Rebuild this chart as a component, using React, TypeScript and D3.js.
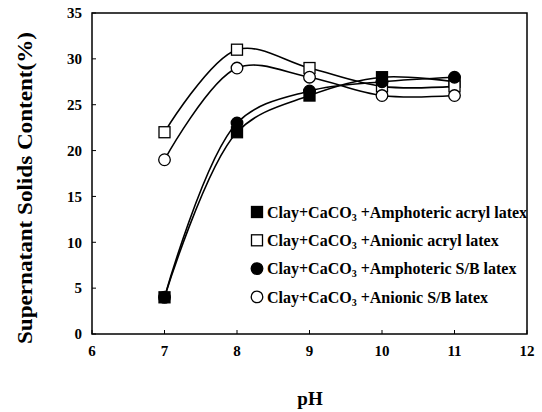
import React from 'react';
import * as d3 from 'd3';

const phValues = [7, 8, 9, 10, 11];
const amphotericAcryl = [4, 22, 26, 28, 27.5];
const anionicAcryl = [22, 31, 29, 27, 27];
const amphotericSB = [4, 23, 26.5, 27.5, 28];
const anionicSB = [19, 29, 28, 26, 26];
const xTicks = [6, 7, 8, 9, 10, 11, 12];
const yTicks = [0, 5, 10, 15, 20, 25, 30, 35];

const series = [
  { name: 'Amphoteric acryl latex', values: amphotericAcryl, shape: 'square', filled: true },
  { name: 'Anionic acryl latex', values: anionicAcryl, shape: 'square', filled: false },
  { name: 'Amphoteric S/B latex', values: amphotericSB, shape: 'circle', filled: true },
  { name: 'Anionic S/B latex', values: anionicSB, shape: 'circle', filled: false },
];

const W = 542;
const H = 412;
const left = 92;
const right = 527;
const top = 13;
const bottom = 334;
const txt = { fontFamily: "'Liberation Serif', 'DejaVu Serif', serif", fontWeight: 'bold' as const };

const x = d3.scaleLinear().domain([6, 12]).range([left, right]);
const y = d3.scaleLinear().domain([0, 35]).range([bottom, top]);

const Marker = ({ cx, cy, shape, filled }: any) => {
  const fill = filled ? '#000' : '#fff';
  if (shape === 'square') {
    return <rect x={cx - 5.5} y={cy - 5.5} width={11} height={11} fill={fill} stroke="#000" strokeWidth={1.3} />;
  }
  return <circle cx={cx} cy={cy} r={5.8} fill={fill} stroke="#000" strokeWidth={1.3} />;
};

export default function App() {
  const line = d3
    .line<number>()
    .x((_, i) => x(phValues[i]))
    .y((d) => y(d))
    .curve(d3.curveCatmullRom.alpha(0.5));

  return (
    <svg width={W} height={H} style={{ position: 'absolute', left: 0, top: 0 }}>
      <rect width={W} height={H} fill="#fff" />
      {/* frame */}
      <rect x={left} y={top} width={right - left} height={bottom - top} fill="none" stroke="#000" strokeWidth={1.5} />
      {xTicks.map((t) => (
        <g key={'x' + t}>
          <line x1={x(t)} x2={x(t)} y1={bottom} y2={bottom - 4} stroke="#000" strokeWidth={1} />
          <text x={x(t)} y={356} textAnchor="middle" style={{ ...txt, fontSize: 15 }}>
            {t}
          </text>
        </g>
      ))}
      {yTicks.map((t) => (
        <g key={'y' + t}>
          <line x1={left} x2={left + 4} y1={y(t)} y2={y(t)} stroke="#000" strokeWidth={1} />
          <text x={82} y={y(t)} dy="0.35em" textAnchor="end" style={{ ...txt, fontSize: 15 }}>
            {t}
          </text>
        </g>
      ))}
      <text x={310} y={405} textAnchor="middle" style={{ ...txt, fontSize: 19 }}>
        pH
      </text>
      <text
        transform="translate(32, 188) rotate(-90)"
        textAnchor="middle"
        textLength={312}
        lengthAdjust="spacingAndGlyphs"
        style={{ ...txt, fontSize: 21 }}
      >
        Supernatant Solids Content(%)
      </text>
      {series.map((s) => (
        <path key={'l' + s.name} d={line(s.values) || ''} fill="none" stroke="#000" strokeWidth={1.6} />
      ))}
      {series.map((s) =>
        s.values.map((v, i) => (
          <Marker key={s.name + i} cx={x(phValues[i])} cy={y(v)} shape={s.shape} filled={s.filled} />
        ))
      )}
      {series.map((s, i) => {
        const ly = 212 + i * 28.3;
        return (
          <g key={'lg' + s.name}>
            <Marker cx={257} cy={ly} shape={s.shape} filled={s.filled} />
            <text x={267} y={ly} dy="0.35em" style={{ ...txt, fontSize: 16 }}>
              Clay+CaCO<tspan fontSize={10} dy="3">3</tspan>
              <tspan dy="-3"> +{s.name}</tspan>
            </text>
          </g>
        );
      })}
    </svg>
  );
}
